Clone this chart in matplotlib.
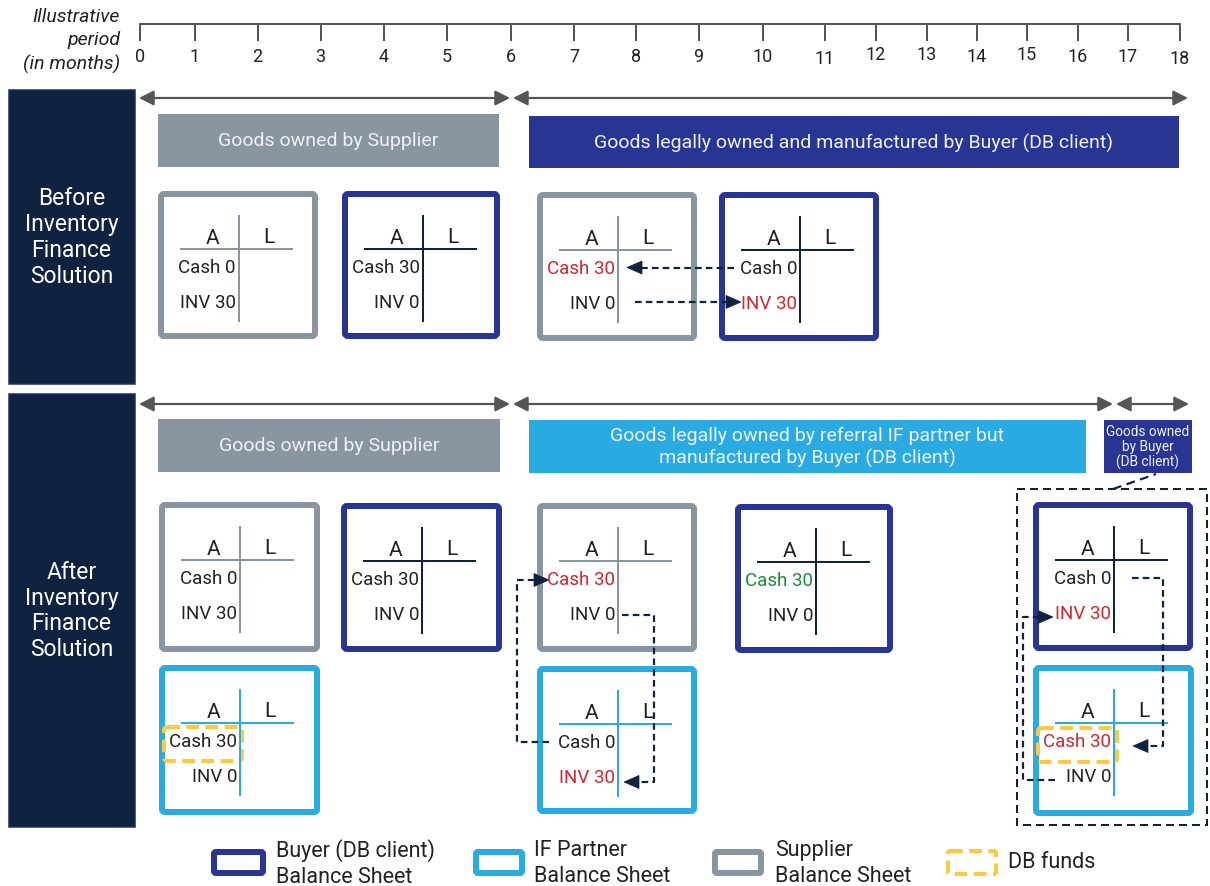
import matplotlib
matplotlib.use("Agg")
import matplotlib.pyplot as plt
from matplotlib.patches import FancyBboxPatch, Rectangle, Polygon, FancyArrowPatch
import numpy as np

plt.rcParams['font.family'] = ['Roboto', 'DejaVu Sans']

# ---------------- data ----------------
month_labels = [str(m) for m in range(19)]
axis_title = "Illustrative\nperiod\n(in months)"
row_titles = ["Before\nInventory\nFinance\nSolution", "After\nInventory\nFinance\nSolution"]
phase_before = ["Goods owned by Supplier",
                "Goods legally owned and manufactured by Buyer (DB client)"]
phase_after = ["Goods owned by Supplier",
               "Goods legally owned by referral IF partner but\nmanufactured by Buyer (DB client)",
               "Goods owned\nby Buyer\n(DB client)"]
# balance sheets: (owner, cash, inv, cash colour key, inv colour key)
bs_before = [("supplier", "Cash 0", "INV 30", "k", "k"),
             ("buyer", "Cash 30", "INV 0", "k", "k"),
             ("supplier", "Cash 30", "INV 0", "r", "k"),
             ("buyer", "Cash 0", "INV 30", "k", "r")]
bs_after_top = [("supplier", "Cash 0", "INV 30", "k", "k"),
                ("buyer", "Cash 30", "INV 0", "k", "k"),
                ("supplier", "Cash 30", "INV 0", "r", "k"),
                ("buyer", "Cash 30", "INV 0", "g", "k"),
                ("buyer", "Cash 0", "INV 30", "k", "r")]
bs_after_bot = [("partner", "Cash 30", "INV 0", "k", "k"),
                ("partner", "Cash 0", "INV 30", "k", "r"),
                ("partner", "Cash 30", "INV 0", "r", "k")]
legend_labels = ["Buyer (DB client)\nBalance Sheet", "IF Partner\nBalance Sheet",
                 "Supplier\nBalance Sheet", "DB funds"]

# ---------------- styles ----------------
NAVY = '#283593'
LBLUE = '#29abe2'
GRAY = '#8995a1'
DARK = '#0f2240'
RED = '#d0272d'
GREEN = '#1e8a3b'
YELLOW = '#fdc843'
TXT = '#222222'
AGRAY = '#555555'
owner_col = {"buyer": NAVY, "partner": LBLUE, "supplier": GRAY}
tline_col = {"buyer": DARK, "partner": LBLUE, "supplier": GRAY}
txt_col = {"k": TXT, "r": RED, "g": GREEN}

fig = plt.figure(figsize=(12.1, 8.87), dpi=100)
ax = fig.add_axes([0, 0, 1, 1])
ax.set_xlim(0, 1210)
ax.set_ylim(887, 0)
ax.axis('off')
PX = 0.72  # points per pixel

# ---------------- timeline ----------------
tick_x = [140, 195, 257.5, 320.5, 383.5, 447, 510.5, 574, 636, 698.5, 762.5,
          825, 875.5, 926.5, 976.5, 1027, 1078, 1128, 1179.5]
label_dy = [0, 0, 0, 0, 0, 0, 0, 0, 0, 0, 0, 2, -2, -2, 0, -1, 1, 0, 2]
ax.plot([tick_x[0], tick_x[-1]], [25, 25], color=AGRAY, lw=2 * PX, solid_capstyle='butt')
for x, lab, dy in zip(tick_x, month_labels, label_dy):
    ax.plot([x, x], [25, 41], color=AGRAY, lw=2 * PX)
    ax.text(x, 56.5 + dy, lab, ha='center', va='center', fontsize=13, color=TXT)
ax.text(120, 41, axis_title, ha='right', va='center', fontsize=14, style='italic',
        color=TXT, linespacing=1.36)

# ---------------- row panels ----------------
for (y0, y1), title in zip([(91, 385), (395, 828)], row_titles):
    ax.add_patch(Rectangle((8.5, y0), 126, y1 - y0, facecolor=DARK, edgecolor='#1e2b60',
                           lw=1.5 * PX))
    ax.text(71.5, (y0 + y1) / 2 - 0.5, title, ha='center', va='center', fontsize=16.5,
            color='white', linespacing=1.15)


def span_arrow(x0, x1, y):
    ax.add_patch(FancyArrowPatch((x0, y), (x1, y), arrowstyle='<|-|>,head_length=0.55,head_width=0.28',
                                 mutation_scale=16, color=AGRAY, lw=2.2 * PX,
                                 shrinkA=0, shrinkB=0))


span_arrow(139, 510, 99)
span_arrow(513, 1188, 99)
span_arrow(139, 510, 405)
span_arrow(513, 1113, 405)
span_arrow(1116, 1189, 405)


def banner(x0, y0, x1, y1, col, text, fs=14, ls=1.15):
    ax.add_patch(Rectangle((x0, y0), x1 - x0, y1 - y0, facecolor=col, edgecolor='none'))
    ax.text((x0 + x1) / 2, (y0 + y1) / 2, text, ha='center', va='center', fontsize=fs,
            color='#eef2f6', linespacing=ls)


banner(158, 115, 499, 168, GRAY, phase_before[0])
banner(529, 117, 1179, 169, NAVY, phase_before[1])
banner(158, 420, 500, 473, GRAY, phase_after[0])
banner(529, 421, 1086, 474, LBLUE, phase_after[1], ls=1.2)
banner(1104, 421, 1192, 474, NAVY, phase_after[2], fs=9.8, ls=1.1)


# ---------------- balance sheets ----------------
def bsheet(box, spec):
    x0, y0, x1, y1 = box
    owner, cash, inv, cc, ic = spec
    bw = 6
    ax.add_patch(FancyBboxPatch((x0 + bw / 2, y0 + bw / 2), x1 - x0 - bw, y1 - y0 - bw,
                                boxstyle='round,pad=0,rounding_size=3', facecolor='white',
                                edgecolor=owner_col[owner], lw=bw * PX))
    lc = tline_col[owner]
    ax.plot([x0 + 23, x0 + 134], [y0 + 58, y0 + 58], color=lc, lw=2 * PX)
    ax.plot([x0 + 81, x0 + 81], [y0 + 25, y0 + 130], color=lc, lw=2 * PX)
    ax.text(x0 + 55, y0 + 47, "A", ha='center', va='center', fontsize=15, color=TXT)
    ax.text(x0 + 111, y0 + 46, "L", ha='center', va='center', fontsize=15, color=TXT)
    ax.text(x0 + 78, y0 + 76, cash, ha='right', va='center', fontsize=13.5, color=txt_col[cc])
    ax.text(x0 + 78, y0 + 111, inv, ha='right', va='center', fontsize=13.5, color=txt_col[ic])


boxes_before = [(158, 192, 318, 340), (342, 192, 500, 340), (537, 193, 697, 342), (719, 193, 879, 342)]
boxes_after_top = [(159, 503, 320, 653), (341, 504, 502, 653), (537, 504, 697, 653),
                   (735, 505, 893, 654), (1033, 503, 1193, 652)]
boxes_after_bot = [(159, 666, 320, 816), (537, 667, 697, 815), (1033, 666, 1194, 817)]
for b, s in zip(boxes_before, bs_before):
    bsheet(b, s)
for b, s in zip(boxes_after_top, bs_after_top):
    bsheet(b, s)
for b, s in zip(boxes_after_bot, bs_after_bot):
    bsheet(b, s)

# ---------------- DB funds highlight ----------------
for (x0, y0, x1, y1) in [(164, 728, 242, 762), (1038, 729, 1117, 763)]:
    ax.add_patch(FancyBboxPatch((x0, y0), x1 - x0, y1 - y0, boxstyle='round,pad=0,rounding_size=3',
                                facecolor='none', edgecolor=YELLOW, lw=4 * PX,
                                linestyle=(0, (3.2, 1.6))))

# ---------------- group outline ----------------
ax.add_patch(Rectangle((1017, 490), 190, 336, facecolor='none', edgecolor=DARK, lw=2 * PX,
                       linestyle=(0, (4, 2.5))))
ax.plot([1113, 1156], [490, 475], color=DARK, lw=2.2 * PX, linestyle=(0, (4, 2.5)))


# ---------------- flows ----------------
def flow(pts):
    pts = np.array(pts, dtype=float)
    d = pts[-1] - pts[-2]
    d = d / np.hypot(*d)
    n = np.array([-d[1], d[0]])
    L, W = 15, 6.5
    base = pts[-1] - d * L
    line = pts.copy()
    line[-1] = base + d * 1
    ax.plot(line[:, 0], line[:, 1], color=DARK, lw=2.2 * PX, linestyle=(0, (3, 1.9)))
    ax.add_patch(Polygon([pts[-1], base + n * W, base - n * W], closed=True,
                         facecolor=DARK, edgecolor=DARK, lw=0.5))


flow([(734, 268.5), (627, 268.5)])
flow([(635, 303), (741, 303)])
flow([(549, 743), (517, 743), (517, 581), (549, 581)])
flow([(622, 616), (654, 616), (654, 783), (624, 783)])
flow([(1132, 579), (1163, 579), (1163, 747), (1133, 747)])
flow([(1055, 781), (1023, 781), (1023, 618), (1053, 618)])

# ---------------- legend ----------------
leg_boxes = [(211, 850, 266, 877, NAVY), (473, 850, 525, 877, LBLUE), (712, 850, 764, 877, GRAY)]
leg_text_x = [276, 534, 775]
for (x0, y0, x1, y1, c), tx, lab in zip(leg_boxes, leg_text_x, legend_labels[:3]):
    ax.add_patch(FancyBboxPatch((x0 + 3, y0 + 3), x1 - x0 - 6, y1 - y0 - 6,
                                boxstyle='round,pad=0,rounding_size=2', facecolor='white',
                                edgecolor=c, lw=6 * PX))
    ax.text(tx, 863.5, lab, ha='left', va='center', fontsize=15.5, color=TXT, linespacing=1.3)
ax.add_patch(FancyBboxPatch((948, 852), 48, 23, boxstyle='round,pad=0,rounding_size=2',
                            facecolor='none', edgecolor=YELLOW, lw=4 * PX, linestyle=(0, (3.2, 1.6))))
ax.text(1008, 862.5, legend_labels[3], ha='left', va='center', fontsize=15.5, color=TXT)

fig.savefig("out.png", dpi=100)
